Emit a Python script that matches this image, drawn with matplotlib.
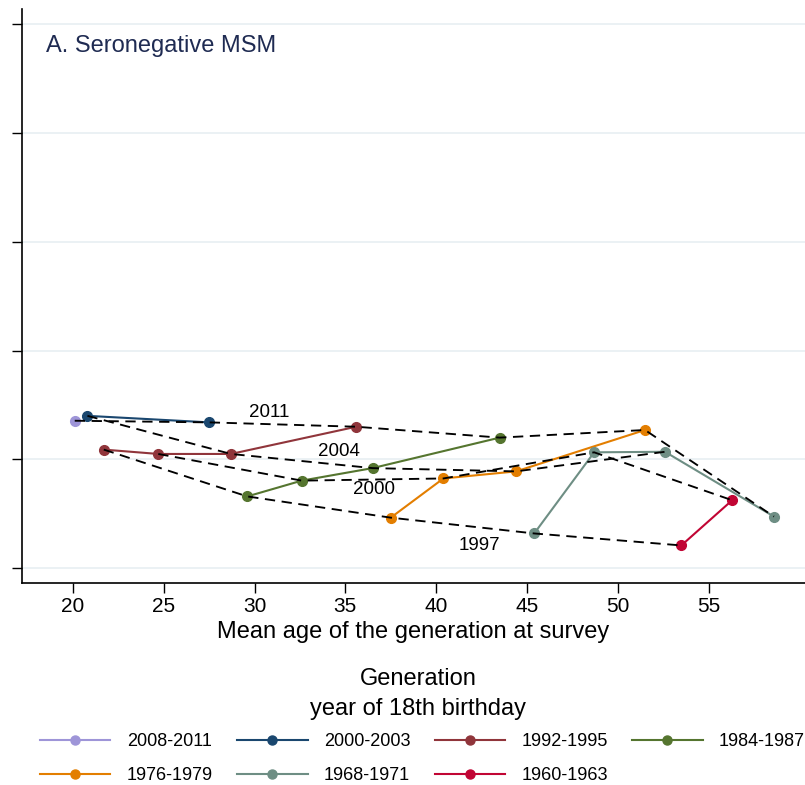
import matplotlib
matplotlib.use("Agg")
import matplotlib.pyplot as plt
from matplotlib.lines import Line2D

plt.rcParams['font.family'] = ['Liberation Sans', 'DejaVu Sans']

# Generations (year of 18th birthday)
generations = ['2008-2011', '2000-2003', '1992-1995', '1984-1987',
               '1976-1979', '1968-1971', '1960-1963']
colors = ['#9e95d8', '#1a476f', '#90353b', '#55752f',
          '#e37e00', '#6e8e84', '#c10534']

# survey years in which each generation was observed
surveys = [
    [2011],
    [2004, 2011],
    [1997, 2000, 2004, 2011],
    [1997, 2000, 2004, 2011],
    [1997, 2000, 2004, 2011],
    [1997, 2000, 2004, 2011],
    [1997, 2000],
]

# mean age of the generation at survey
ages = [
    [20.1],
    [20.8, 27.5],
    [21.7, 24.7, 28.7, 35.6],
    [29.6, 32.6, 36.5, 43.5],
    [37.5, 40.4, 44.4, 51.5],
    [45.4, 48.7, 52.6, 58.6],
    [53.5, 56.3],
]

# outcome values (y axis, labels not shown in the original crop)
values = [
    [13.55],
    [14.0, 13.4],
    [10.9, 10.5, 10.5, 13.0],
    [6.6, 8.05, 9.2, 12.0],
    [4.65, 8.25, 8.9, 12.7],
    [3.2, 10.65, 10.7, 4.75],
    [2.1, 6.25],
]

survey_labels = ['2011', '2004', '2000', '1997']
label_x = [30.83, 34.63, 36.59, 42.41]
label_y = [14.32, 10.77, 7.25, 2.08]

fig = plt.figure(figsize=(8.05, 7.85), dpi=100)
ax = fig.add_axes([21.7 / 805, 1 - 583 / 785, 1 - 21.7 / 805, (583 - 9) / 785])

# generation lines
handles = []
for gen, col, x, y in zip(generations, colors, ages, values):
    ax.plot(x, y, '-', color=col, lw=1.5, marker='o', ms=7, zorder=3)
    handles.append(Line2D([0], [0], color=col, lw=1.5, marker='o', ms=6.5))

# dashed lines joining generations at the same survey
for yr in [1997, 2000, 2004, 2011]:
    xs, ys = [], []
    for s, x, y in zip(surveys, ages, values):
        if yr in s:
            i = s.index(yr)
            xs.append(x[i])
            ys.append(y[i])
    ax.plot(xs, ys, color='black', lw=1.35, ls=(0, (5.5, 3.5)), zorder=4)

for t, x, y in zip(survey_labels, label_x, label_y):
    ax.text(x, y, t, fontsize=13.5, ha='center', va='center', zorder=5)

ax.text(0.031, 0.935, 'A. Seronegative MSM', transform=ax.transAxes,
        fontsize=17, color='#1f2b52', ha='left', va='center')

ax.set_xlim(17.18, 60.31)
ax.set_ylim(-1.35, 51.36)
ax.set_xticks([20, 25, 30, 35, 40, 45, 50, 55])
ax.set_yticks([0, 10, 20, 30, 40, 50])
ax.set_yticklabels([])
ax.tick_params(axis='x', labelsize=15, length=7, width=1, pad=3)
ax.tick_params(axis='y', length=7, width=1)
ax.grid(axis='y', color='#e8eff2', lw=1.2)
ax.set_axisbelow(True)
for s in ['top', 'right']:
    ax.spines[s].set_visible(False)
for s in ['left', 'bottom']:
    ax.spines[s].set_linewidth(1.2)
ax.set_xlabel('Mean age of the generation at survey', fontsize=17, labelpad=4)

fig.text(418 / 805, 1 - 679 / 785, 'Generation', fontsize=17,
         ha='center', va='center')
fig.text(418 / 805, 1 - 709 / 785, 'year of 18th birthday', fontsize=17,
         ha='center', va='center')

# legend filled row by row like the original (4 per row)
order = [0, 4, 1, 5, 2, 6, 3]
fig.legend([handles[i] for i in order], [generations[i] for i in order],
           ncol=4, loc='upper left',
           bbox_to_anchor=(40 / 805, 1 - 733 / 785), frameon=False,
           fontsize=13, handlelength=3.9, handletextpad=0.9,
           columnspacing=1.35, labelspacing=0.95, borderpad=0,
           borderaxespad=0)

fig.savefig('out.png', dpi=100)
